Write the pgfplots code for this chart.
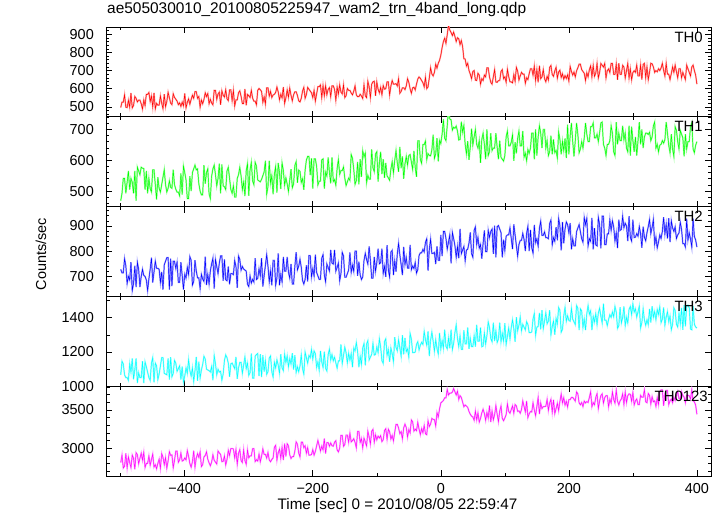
\documentclass[border=0pt]{standalone}
\usepackage{fontspec}
\setmainfont{Liberation Sans}
\usepackage{pgfplots}
\usepackage{pgfplotstable}
\pgfplotsset{compat=1.18}
\pgfplotstableread{
t a b c d e
-500 496 469 728 1066 2816
-498 526 493 714 1146 2912
-496 526 541 714 1130 2744
-494 566 541 770 1066 2768
-492 498 493 742 1050 2936
-490 496 529 672 1050 2744
-488 536 565 700 1034 2888
-486 499 505 686 1130 2816
-484 576 541 756 1082 2750
-482 494 529 644 1162 2912
-480 507 493 672 1040 2871
-478 557 565 742 1098 2727
-476 547 469 658 1162 2943
-474 527 577 756 1018 2919
-472 537 565 728 1078 2799
-470 537 553 658 1050 2871
-468 517 577 700 1050 2937
-466 487 574 728 1146 2847
-464 537 573 704 1018 2949
-462 507 505 700 1142 2751
-460 569 565 686 1114 2805
-458 569 493 644 1082 2805
-456 579 541 690 1050 2901
-454 529 508 728 1034 2781
-452 559 497 774 1135 2853
-450 499 569 676 1167 2925
-448 577 569 718 1023 2757
-446 489 521 760 1135 2787
-444 519 473 732 1119 2733
-442 509 545 732 1039 2805
-440 510 509 728 1071 2860
-438 560 497 676 1119 2740
-436 520 521 718 1167 2932
-434 490 545 648 1167 2884
-432 570 569 746 1075 2788
-430 500 521 760 1071 2880
-428 530 497 774 1067 2740
-426 580 509 774 1163 2836
-424 550 533 648 1039 2956
-422 520 512 770 1170 2908
-420 512 509 662 1055 2915
-418 572 569 760 1075 2747
-416 552 521 760 1151 2843
-414 542 506 732 1135 2963
-412 532 497 756 1087 2963
-410 512 497 676 1103 2819
-408 522 485 676 1119 2849
-406 502 557 756 1039 2939
-404 526 489 704 1115 2835
-402 505 581 648 1023 2843
-400 574 560 708 1059 2874
-398 494 536 694 1107 2850
-396 524 476 736 1075 2970
-394 544 476 708 1155 2898
-392 514 548 778 1091 2802
-390 541 500 764 1059 2754
-388 564 560 666 1107 2826
-386 547 572 680 1027 2970
-384 584 584 764 1091 2754
-382 584 569 722 1171 2874
-380 547 572 694 1031 2931
-378 557 524 694 1143 2883
-376 497 500 652 1047 2955
-374 537 488 708 1095 2763
-372 517 488 690 1127 2787
-370 540 584 680 1175 2889
-368 577 524 778 1159 2907
-366 557 560 666 1099 2955
-364 573 572 708 1095 2859
-362 517 491 670 1091 2811
-360 541 476 722 1083 2773
-358 521 548 750 1115 2821
-356 511 572 772 1035 2917
-354 591 584 652 1179 2845
-352 591 553 767 1131 2821
-350 541 517 739 1067 2797
-348 571 541 711 1099 2965
-346 581 589 753 1083 2941
-344 511 493 781 1087 2921
-342 588 586 781 1035 2827
-340 564 517 683 1071 2830
-338 554 514 767 1151 2902
-336 594 505 687 1183 2782
-334 544 565 683 1167 2854
-332 534 577 739 1135 2974
-330 594 541 669 1055 2908
-328 594 505 711 1131 2998
-326 534 493 711 1135 2998
-324 590 517 707 1119 2992
-322 504 481 763 1103 2878
-320 538 481 739 1171 2984
-318 538 541 655 1043 2792
-316 578 553 781 1107 2936
-314 588 577 767 1139 2984
-312 558 549 725 1139 2840
-310 518 505 739 1075 2816
-308 518 529 729 1123 2980
-306 598 484 725 1171 2840
-304 508 565 721 1103 2792
-302 568 589 669 1135 2980
-300 561 485 660 1063 2877
-298 551 569 702 1079 2901
-296 591 593 674 1191 2901
-294 548 533 688 1047 2997
-292 531 521 678 1047 2997
-290 531 593 772 1175 2829
-288 511 581 688 1185 2853
-286 591 536 692 1191 2835
-284 601 533 730 1059 2925
-282 594 530 702 1187 2825
-280 585 538 772 1053 2898
-278 525 550 660 1181 2994
-276 555 562 702 1085 2922
-274 515 598 744 1149 2922
-272 605 490 786 1069 2874
-270 605 514 740 1085 2946
-268 559 598 679 1165 2850
-266 585 526 721 1177 2826
-264 551 550 665 1085 2856
-262 565 490 763 1053 2874
-260 569 555 763 1139 3015
-258 579 579 665 1107 3039
-256 609 495 693 1155 2847
-254 582 591 791 1123 2943
-252 539 559 665 1075 2991
-250 569 507 707 1187 2871
-248 549 591 679 1107 3011
-246 609 567 777 1091 2847
-244 519 519 721 1187 3063
-242 549 543 721 1139 2895
-240 593 523 777 1177 3060
-238 553 499 717 1113 3036
-236 603 535 693 1161 2916
-234 563 571 749 1129 2868
-232 533 511 670 1193 2892
-230 566 523 670 1097 2892
-228 583 583 740 1181 2964
-226 583 595 796 1081 3084
-224 563 527 726 1113 3056
-222 533 568 740 1085 2940
-220 527 564 768 1119 2889
-218 547 528 736 1183 3081
-216 587 540 684 1103 3081
-214 607 504 670 1071 3009
-212 547 568 688 1199 3033
-210 567 600 744 1167 2937
-208 607 612 680 1135 3009
-206 597 612 782 1179 2913
-204 587 552 782 1167 2913
-202 577 606 698 1215 2919
-200 551 508 730 1158 2984
-198 591 604 702 1206 2912
-196 531 604 786 1190 2960
-194 571 580 716 1110 3032
-192 611 520 702 1142 3104
-190 611 532 688 1094 3036
-188 621 532 688 1206 2966
-186 551 601 772 1142 3028
-184 617 604 786 1110 2980
-182 561 508 706 1202 3128
-180 616 561 679 1105 2932
-178 566 549 749 1089 3076
-176 596 609 735 1185 3076
-174 606 561 721 1217 3028
-172 556 525 805 1153 3070
-170 616 609 753 1185 3034
-168 616 531 749 1149 3028
-166 596 537 805 1169 3080
-164 536 519 721 1137 3100
-162 609 573 735 1105 2980
-160 571 602 753 1148 2954
-158 621 554 683 1148 3002
-156 581 566 711 1244 3170
-154 571 566 795 1132 3170
-152 621 578 781 1180 3026
-150 551 542 697 1228 3050
-148 561 518 697 1196 3174
-146 601 530 711 1136 3174
-144 591 542 725 1192 3078
-142 591 535 795 1152 3198
-140 576 618 716 1191 3084
-138 566 606 744 1111 3102
-136 586 570 720 1223 3126
-134 616 522 800 1207 3078
-132 566 534 800 1255 3007
-130 556 594 702 1203 3223
-128 556 522 758 1111 3223
-126 569 603 706 1175 3079
-124 560 546 688 1127 3127
-122 546 630 698 1223 3007
-120 621 611 763 1250 3133
-118 561 623 791 1122 3085
-116 551 527 767 1246 3032
-114 641 551 749 1266 3224
-112 611 539 819 1154 3152
-110 551 539 763 1170 3056
-108 625 635 693 1186 3224
-106 638 575 693 1250 3248
-104 641 563 777 1182 3080
-102 561 620 721 1186 3176
-100 637 627 754 1229 3112
-98 597 531 810 1197 3160
-96 577 591 750 1277 3136
-94 607 627 754 1229 3166
-92 567 555 810 1149 3088
-90 617 603 712 1133 3112
-88 597 543 740 1261 3232
-86 600 591 698 1277 3256
-84 637 549 824 1181 3118
-82 637 543 726 1213 3250
-80 565 535 698 1143 3217
-78 615 571 796 1223 3121
-76 645 595 803 1191 3169
-74 625 559 705 1143 3097
-72 625 599 761 1287 3211
-70 628 631 719 1227 3313
-68 615 591 789 1207 3313
-66 655 562 831 1271 3265
-64 575 643 785 1223 3193
-62 585 574 747 1175 3217
-60 605 612 705 1298 3124
-58 605 540 817 1186 3268
-56 595 588 747 1282 3316
-54 615 612 775 1202 3272
-52 655 584 733 1218 3148
-50 635 615 733 1170 3244
-48 599 618 825 1308 3202
-46 575 594 727 1276 3370
-44 605 570 741 1196 3346
-42 608 630 731 1196 3226
-40 593 576 755 1200 3250
-38 625 546 713 1244 3230
-36 653 662 727 1260 3340
-34 665 662 783 1212 3250
-32 657 602 793 1240 3178
-30 645 590 793 1256 3256
-28 633 650 807 1244 3204
-26 610 650 797 1320 3298
-24 663 662 835 1272 3190
-22 600 602 849 1240 3178
-20 610 621 723 1320 3360
-18 660 615 807 1176 3285
-16 715 614 847 1268 3318
-14 681 633 791 1316 3390
-12 670 682 791 1264 3377
-10 690 606 795 1204 3376
-8 735 620 749 1272 3292
-6 713 671 819 1220 3465
-4 740 596 763 1188 3410
-2 756 664 763 1312 3516
0 785 654 864 1218 3592
2 826 684 780 1266 3608
4 860 732 878 1222 3624
6 878 671 878 1330 3659
8 850 663 850 1234 3658
10 898 711 808 1218 3767
12 950 766 836 1282 3696
14 923 733 864 1222 3720
16 910 730 752 1330 3720
18 893 697 874 1214 3732
20 912 706 850 1250 3780
22 888 703 822 1314 3738
24 860 710 776 1359 3696
26 881 694 818 1279 3745
28 875 665 772 1231 3638
30 843 667 888 1295 3687
32 865 724 790 1215 3664
34 833 691 804 1215 3603
36 765 712 818 1327 3542
38 763 651 762 1247 3565
40 725 620 804 1247 3552
42 740 661 808 1343 3534
44 700 601 832 1219 3481
46 680 642 874 1279 3444
48 655 702 790 1231 3420
50 695 649 776 1231 3408
52 700 675 882 1295 3366
54 647 699 896 1231 3486
56 645 651 826 1359 3372
58 685 639 854 1263 3462
60 675 663 812 1263 3342
62 625 591 826 1343 3390
64 655 667 770 1231 3462
66 645 687 830 1235 3510
68 675 651 882 1311 3456
70 665 603 798 1247 3366
72 715 699 798 1295 3468
74 715 615 882 1375 3396
76 665 627 854 1343 3558
78 635 687 878 1279 3342
80 625 631 887 1260 3486
82 665 639 789 1372 3372
84 705 639 901 1264 3438
86 637 687 775 1324 3558
88 635 641 897 1256 3444
90 645 603 901 1276 3348
92 645 663 887 1372 3486
94 695 609 873 1260 3552
96 705 603 775 1308 3390
98 655 597 845 1264 3360
100 665 615 803 1368 3396
102 635 675 859 1244 3438
104 707 694 864 1292 3578
106 667 646 864 1340 3482
108 638 646 892 1276 3458
110 637 658 850 1344 3506
112 632 682 808 1388 3554
114 677 598 906 1336 3458
116 641 658 864 1260 3572
118 717 622 822 1404 3554
120 697 670 780 1324 3482
122 647 694 826 1356 3488
124 670 646 842 1404 3458
126 690 646 842 1324 3506
128 680 694 870 1361 3618
130 680 610 846 1345 3546
132 630 622 800 1329 3474
134 660 598 870 1377 3618
136 650 634 898 1361 3402
138 683 622 800 1313 3450
140 710 639 884 1313 3480
142 710 687 814 1317 3474
144 675 687 792 1393 3594
146 725 603 904 1425 3498
148 645 699 834 1297 3426
150 705 615 848 1345 3546
152 635 675 820 1349 3663
154 727 711 890 1429 3447
156 655 687 918 1333 3591
158 665 639 862 1445 3519
160 705 699 862 1337 3543
162 655 699 876 1381 3543
164 638 639 853 1429 3549
166 668 663 853 1365 3639
168 648 615 849 1381 3495
170 718 627 909 1445 3591
172 728 679 923 1301 3639
174 678 619 825 1349 3471
176 668 667 853 1381 3633
178 698 625 839 1301 3453
180 718 631 895 1396 3516
182 658 607 843 1364 3588
184 692 691 929 1460 3492
186 702 667 901 1444 3612
188 662 619 803 1316 3708
190 682 661 915 1332 3594
192 652 631 831 1412 3660
194 672 670 887 1460 3564
196 656 607 915 1380 3612
198 676 715 905 1412 3540
200 642 619 873 1384 3636
202 722 679 911 1380 3636
204 695 720 807 1456 3664
206 675 660 849 1392 3664
208 692 612 821 1376 3640
210 665 663 821 1360 3616
212 698 720 877 1472 3736
214 715 684 891 1456 3712
216 735 624 905 1328 3592
218 735 636 877 1452 3568
220 705 660 849 1440 3598
222 695 639 835 1344 3544
224 685 672 933 1392 3616
226 645 720 905 1328 3592
228 688 684 929 1424 3610
230 665 660 821 1472 3598
232 705 660 849 1420 3664
234 725 708 839 1440 3736
236 665 708 931 1328 3544
238 728 720 807 1408 3596
240 668 672 891 1376 3568
242 685 672 825 1424 3664
244 739 684 821 1360 3712
246 659 660 933 1428 3520
248 689 688 905 1456 3616
250 739 720 811 1408 3688
252 729 723 938 1370 3710
254 719 651 938 1482 3590
256 739 639 826 1386 3662
258 659 615 826 1386 3686
260 699 651 868 1354 3686
262 709 651 868 1390 3542
264 689 663 924 1418 3638
266 739 711 882 1402 3590
268 739 687 920 1434 3734
270 679 627 896 1406 3638
272 679 615 840 1466 3590
274 736 723 872 1434 3758
276 649 651 812 1338 3614
278 741 687 924 1354 3566
280 679 663 882 1462 3620
282 679 663 886 1370 3644
284 729 711 938 1402 3710
286 719 666 893 1466 3572
288 659 687 910 1354 3734
290 699 639 900 1402 3596
292 739 627 840 1370 3686
294 659 711 938 1450 3710
296 709 615 854 1466 3704
298 649 708 840 1418 3614
300 689 663 924 1482 3728
302 699 627 854 1434 3566
304 690 675 855 1452 3619
306 730 615 869 1404 3643
308 670 663 859 1436 3571
310 670 723 897 1468 3571
312 730 651 869 1340 3691
314 650 699 813 1372 3667
316 734 639 897 1452 3667
318 740 675 855 1388 3763
320 660 687 841 1356 3607
322 720 687 873 1388 3595
324 650 683 897 1360 3715
326 690 690 925 1452 3691
328 740 663 869 1372 3577
330 737 675 894 1468 3673
332 720 711 925 1404 3607
334 690 723 827 1436 3619
336 700 639 855 1388 3547
338 693 651 813 1448 3661
340 710 627 836 1420 3571
342 700 648 864 1464 3739
344 714 651 850 1372 3763
346 740 663 878 1392 3763
348 700 655 934 1460 3553
350 670 666 868 1356 3715
352 740 723 906 1404 3757
354 680 687 850 1436 3757
356 680 648 930 1378 3571
358 650 624 836 1410 3619
360 684 684 920 1330 3643
362 720 636 892 1362 3595
364 690 612 878 1458 3667
366 730 708 896 1442 3625
368 694 696 850 1362 3691
370 660 660 864 1346 3739
372 710 636 872 1426 3649
374 710 696 914 1366 3643
376 660 684 886 1458 3739
378 690 672 830 1330 3691
380 670 612 830 1474 3667
382 650 684 816 1350 3595
384 730 636 928 1470 3691
386 710 660 844 1474 3691
388 690 660 872 1458 3685
390 670 708 848 1334 3643
392 720 720 816 1330 3763
394 730 636 928 1470 3619
396 700 624 858 1362 3607
398 675 648 844 1346 3564
400 625 660 816 1340 3444
}\data
\definecolor{cred}{rgb}{1,0,0}
\definecolor{cgreen}{rgb}{0,1,0}
\definecolor{cblue}{rgb}{0,0,1}
\definecolor{ccyan}{rgb}{0,1,1}
\definecolor{cmag}{rgb}{1,0,1}
\tikzset{tag/.style={anchor=north east, inner sep=0pt, font=\fontsize{15}{17}\selectfont}}
\pgfplotsset{
  panel/.style={
    scale only axis, width=605bp, height=89.8bp,
    xmin=-523, xmax=422,
    xtick={-400,-200,0,200,400},
    minor xtick={-500,-300,-100,100,300},
    xticklabels={},
    tick align=inside, xtick pos=both, ytick pos=both,
    major tick length=6bp, minor tick length=3.5bp,
    axis line style={line width=0.9bp},
    every tick/.style={black, line width=0.6bp},
    every minor tick/.style={black, line width=0.5bp},
    tick label style={font=\fontsize{14.5}{16}\selectfont},
    yticklabel style={inner xsep=0pt, xshift=-12bp},
    xticklabel style={inner ysep=0pt, yshift=-7bp},
    /pgf/number format/assume math mode=true,
    /pgf/number format/1000 sep={},
    anchor=north west,
  },
}
\newcommand{\band}[2]{%
  \addplot[#2!40, line width=1.5bp, mark=none, forget plot] table[x=t, y=#1] {\data};
  \addplot[#2, line width=0.45bp, mark=none] table[x=t, y=#1] {\data};
}
\begin{document}
\begin{tikzpicture}
\useasboundingbox (-106bp,27bp) rectangle (617bp,-489bp);
\begin{axis}[panel, at={(0bp,0bp)}, ymin=445, ymax=940,
  ytick={500,600,700,800,900}, minor ytick={460,480,...,940},
  title={ae505030010\_20100805225947\_wam2\_trn\_4band\_long.qdp},
  title style={at={(0,1)}, anchor=base west, yshift=7.5bp, inner sep=0pt, xshift=1bp, font=\fontsize{15.5}{17}\selectfont}]
\band{a}{cred}
\node[tag] at (rel axis cs:1,1) [xshift=-8bp, yshift=-4.5bp] {TH0};
\end{axis}
\begin{axis}[panel, at={(0bp,-89.8bp)}, ymin=450, ymax=740,
  ytick={500,600,700}, minor ytick={460,480,...,740}]
\band{b}{cgreen}
\node[tag] at (rel axis cs:1,1) [xshift=-8bp, yshift=-4.5bp] {TH1};
\end{axis}
\begin{axis}[panel, at={(0bp,-179.6bp)}, ymin=621, ymax=976,
  ytick={700,800,900}, minor ytick={640,660,...,960}]
\band{c}{cblue}
\node[tag] at (rel axis cs:1,1) [xshift=-8bp, yshift=-4.5bp] {TH2};
\end{axis}
\begin{axis}[panel, at={(0bp,-269.4bp)}, ymin=1000, ymax=1525,
  ytick={1000,1200,1400}, minor ytick={1100,1300,1500}]
\band{d}{ccyan}
\node[tag] at (rel axis cs:1,1) [xshift=-8bp, yshift=-4.5bp] {TH3};
\end{axis}
\begin{axis}[panel, at={(0bp,-359.2bp)}, ymin=2640, ymax=3810,
  ytick={3000,3500}, minor ytick={2700,2800,...,3800},
  xticklabels={−400,−200,0,200,400}]
\band{e}{cmag}
\node[tag] at (rel axis cs:1,1) [xshift=-3bp, yshift=-4.5bp] {TH0123};
\end{axis}
\node[rotate=90, font=\fontsize{14.5}{16}\selectfont] at (-65bp,-227bp) {Counts/sec};
\node[anchor=base, font=\fontsize{15.3}{17}\selectfont] at (291.5bp,-482bp) {Time [sec] 0 = 2010/08/05 22:59:47};
\end{tikzpicture}
\end{document}
